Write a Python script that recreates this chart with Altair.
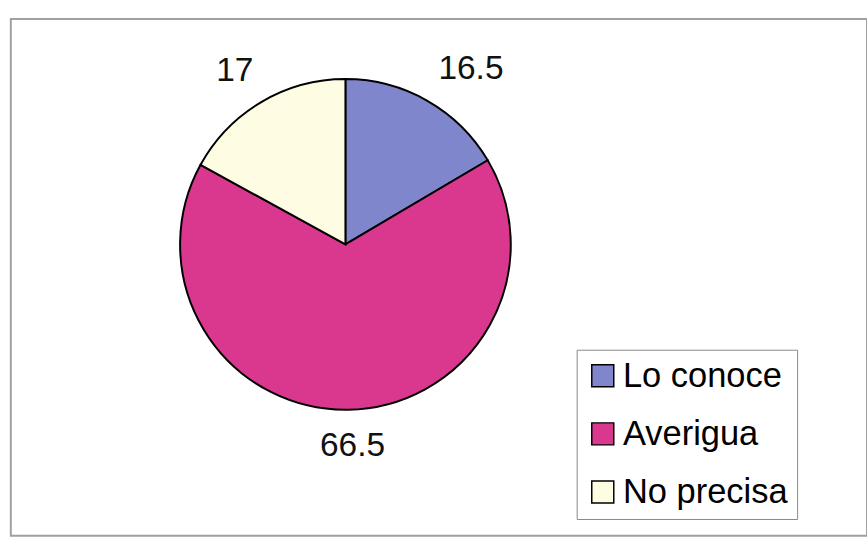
import altair as alt
import pandas as pd

categories = ["Lo conoce", "Averigua", "No precisa"]
values = [16.5, 66.5, 17]
labels = ["16.5", "66.5", "17"]
colors = ["#8086cc", "#d9388e", "#fefce2"]

df = pd.DataFrame({"cat": categories, "val": values, "lab": labels, "order": [0, 1, 2]})

CX, CY = 340, 229

base = alt.Chart(df).encode(
    theta=alt.Theta("val:Q", stack=True),
    order=alt.Order("order:Q"),
)

pie = base.mark_arc(stroke="black", strokeWidth=2, radius=168).encode(
    x=alt.value(CX),
    y=alt.value(CY),
    color=alt.Color(
        "cat:N",
        sort=categories,
        scale=alt.Scale(domain=categories, range=colors),
        legend=alt.Legend(
            title=None,
            orient="none",
            legendX=575,
            legendY=336,
            symbolType="square",
            symbolSize=500,
            symbolStrokeColor="black",
            symbolStrokeWidth=1.5,
            labelFontSize=35,
            labelFont="Liberation Sans",
            labelColor="black",
            labelOffset=3,
            labelLimit=0,
            rowPadding=23,
            padding=9,
            strokeColor="#888888",
            fillColor="white",
        ),
    ),
)

label_dx = {"Lo conoce": 26, "Averigua": 4, "No precisa": -8}

texts = [
    base.mark_text(radius=205, fontSize=34, font="Liberation Sans", color="#111111", dx=label_dx[c])
    .encode(x=alt.value(CX), y=alt.value(CY), text="lab:N", opacity=alt.condition(
        alt.datum.cat == c, alt.value(1), alt.value(0)))
    for c in categories
]

chart = (
    alt.layer(pie, *texts)
    .properties(
        width=870,
        height=525,
        padding={"left": 11, "top": 15, "right": 0, "bottom": 3},
        autosize=alt.AutoSizeParams(type="none"),
        background="white",
    )
    .configure_view(stroke="#a0a0a0", strokeWidth=2)
)

chart.save("out.html", embed_options={"renderer": "svg", "actions": False})
